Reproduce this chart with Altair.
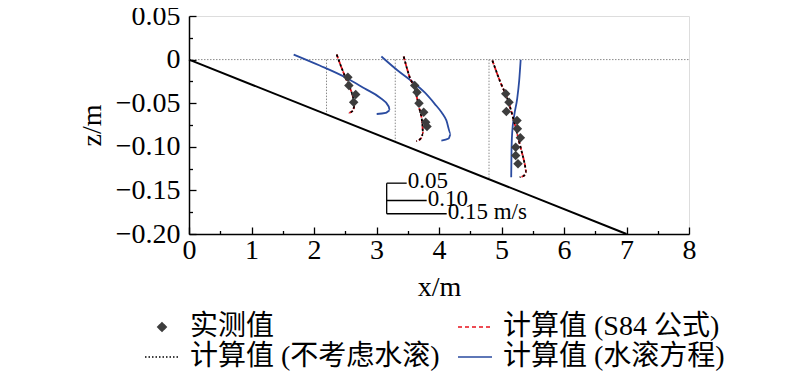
import altair as alt
import pandas as pd

# ---------------- data ----------------
U_SCALE = 6.4          # metres of x per m/s of velocity (scale bar: 0.05 m/s)
BED_X = [0.0, 7.0]
BED_Z = [0.0, -0.20]
STATIONS = [2.2, 3.3, 4.8]
STATION_BED = [-0.0629, -0.0943, -0.1371]

# measured velocities (diamonds)
meas_u = [
    [0.0534, 0.0559, 0.0730, 0.0680],
    [0.0486, 0.0544, 0.0594, 0.0711, 0.0761, 0.0794],
    [0.0418, 0.0500, 0.0434, 0.0700, 0.0709, 0.0784, 0.0667, 0.0667, 0.0725],
]
meas_z = [
    [-0.0202, -0.0297, -0.0400, -0.0489],
    [-0.0297, -0.0374, -0.0500, -0.0603, -0.0718, -0.0767],
    [-0.0392, -0.0489, -0.0595, -0.0698, -0.0794, -0.0897, -0.1005, -0.1101, -0.1195],
]

# computed, S84 formula / without roller (nearly identical)
calc_u = [
    [0.0255, 0.0405, 0.0530, 0.0655, 0.0705, 0.0667, 0.0542],
    [0.0211, 0.0361, 0.0486, 0.0594, 0.0678, 0.0694, 0.0648, 0.0528],
    [0.0085, 0.0268, 0.0475, 0.0642, 0.0767, 0.0892, 0.0935, 0.0880, 0.0767],
]
calc_z = [
    [0.0058, -0.0127, -0.0265, -0.0414, -0.0506, -0.0584, -0.0613],
    [0.0036, -0.0202, -0.0335, -0.0546, -0.0736, -0.0851, -0.0899, -0.0936],
    [-0.0010, -0.0240, -0.0469, -0.0736, -0.0966, -0.1195, -0.1291, -0.1329, -0.1349],
]

# computed, roller equation
roll_u = [
    [-0.0820, -0.0170, 0.0480, 0.0955, 0.1330, 0.1555, 0.1580, 0.1480, 0.1255],
    [-0.0347, 0.0061, 0.0444, 0.0736, 0.0986, 0.1161, 0.1278, 0.1386, 0.1336, 0.1153],
    [0.0792, 0.0755, 0.0705, 0.0630, 0.0580, 0.0563, 0.0555],
]
roll_z = [
    [0.0058, -0.0068, -0.0206, -0.0332, -0.0435, -0.0538, -0.0584, -0.0612, -0.0624],
    [0.0036, -0.0125, -0.0259, -0.0377, -0.0507, -0.0607, -0.0698, -0.0851, -0.0905, -0.0928],
    [-0.0002, -0.0240, -0.0447, -0.0642, -0.0837, -0.1043, -0.1349],
]

# velocity scale bar
BAR_X = 3.163
BAR_U = [0.05, 0.10, 0.15]
BAR_Z = [-0.1417, -0.1616, -0.1768]
BAR_LABELS = ["0.05", "0.10", "0.15 m/s"]

# legend order chosen so that the 2-column legend reads like the reference
NAMES = ["实测值", "计算值 (不考虑水滚)", "计算值 (S84 公式)", "计算值 (水滚方程)"]
C_MEAS, C_NOROLL, C_S84, C_ROLL = "#3d3d3d", "#000000", "#e8111b", "#2a4ba0"

FONT = "Liberation Serif, Noto Sans CJK SC"
FS = 28

# ---------------- tables ----------------
def profile_df(us, zs):
    rows = []
    for s, (ul, zl) in enumerate(zip(us, zs)):
        for i, (u, z) in enumerate(zip(ul, zl)):
            rows.append({"station": s, "idx": i, "x": STATIONS[s] + U_SCALE * u, "z": z})
    return pd.DataFrame(rows)

df_meas = profile_df(meas_u, meas_z)
df_calc = profile_df(calc_u, calc_z)
df_roll = profile_df(roll_u, roll_z)
df_bed = pd.DataFrame({"x": BED_X, "z": BED_Z})
df_surf = pd.DataFrame({"x": [0.0, 8.0], "z": [0.0, 0.0]})
df_st = pd.DataFrame({"x": STATIONS, "z": [0.0] * 3, "z2": STATION_BED})
df_bar_v = pd.DataFrame({"x": [BAR_X], "z": [BAR_Z[0]], "z2": [BAR_Z[-1]]})
df_bar_h = pd.DataFrame({"x": [BAR_X] * 3, "x2": [BAR_X + U_SCALE * u for u in BAR_U],
                         "z": BAR_Z, "label": BAR_LABELS})
df_leg = pd.DataFrame({"series": NAMES})

W, H = 500, 218
xs = alt.Scale(domain=[0, 8], nice=False, zero=False)
ys = alt.Scale(domain=[-0.20, 0.05], nice=False, zero=False)

def X(axis=None):
    return alt.X("x:Q", scale=xs, axis=axis)

def Y(axis=None):
    return alt.Y("z:Q", scale=ys, axis=axis)

x_main = alt.Axis(values=list(range(9)), ticks=False, tickSize=0, domainColor="black",
                  domainWidth=1.5, labelFont=FONT, labelFontSize=FS, labelColor="black",
                  labelPadding=2, labelFlush=False, title="x/m", titleFont=FONT,
                  titleFontSize=FS, titleFontWeight="normal", titleColor="black",
                  titlePadding=9, grid=False)
y_main = alt.Axis(values=[0.05, 0, -0.05, -0.10, -0.15, -0.20], ticks=False, tickSize=0,
                  domainColor="black", domainWidth=1.5, labelFont=FONT, labelFontSize=FS,
                  labelColor="black", labelPadding=9, labelFlush=False,
                  labelExpr="datum.value == 0 ? '0' : format(datum.value, '.2f')",
                  title="z/m", titleFont=FONT, titleFontSize=FS, titleFontWeight="normal",
                  titleColor="black", titlePadding=9, grid=False)
x_ticks = alt.Axis(orient="top", offset=-H, values=[i * 0.5 for i in range(17)], labels=False,
                   domain=False, title=None, grid=False, tickColor="black", tickWidth=1.3,
                   tickSize={"condition": {"test": "abs(datum.value - round(datum.value)) < 0.001",
                                           "value": 7}, "value": 3.5})
y_ticks = alt.Axis(orient="right", offset=-W, values=[0.05 - 0.025 * i for i in range(11)],
                   labels=False, domain=False, title=None, grid=False, tickColor="black",
                   tickWidth=1.3,
                   tickSize={"condition": {"test": "abs(datum.value*20 - round(datum.value*20)) < 0.001",
                                           "value": 7}, "value": 3.5})

gray = "#8a8a8a"
surf = alt.Chart(df_surf).mark_line(color=gray, strokeWidth=1, strokeDash=[1.5, 1.5]).encode(
    x=X(x_ticks), y=Y(y_ticks))
st = alt.Chart(df_st).mark_rule(color=gray, strokeWidth=1, strokeDash=[1.5, 1.5]).encode(
    x=X(), y=Y(), y2="z2:Q")
bed = alt.Chart(df_bed).mark_line(color="black", strokeWidth=2).encode(x=X(x_main), y=Y(y_main))

roll = alt.Chart(df_roll).mark_line(color=C_ROLL, strokeWidth=1.8, interpolate="monotone").encode(
    x=X(), y=Y(), detail="station:N", order="idx:Q")
calc_red = alt.Chart(df_calc).mark_line(color=C_S84, strokeWidth=1.8, strokeDash=[4, 2],
                                        interpolate="monotone").encode(
    x=X(), y=Y(), detail="station:N", order="idx:Q")
calc_blk = alt.Chart(df_calc).mark_line(color=C_NOROLL, strokeWidth=1.8, strokeDash=[2.5, 2.5],
                                        interpolate="monotone").encode(
    x=X(), y=Y(), detail="station:N", order="idx:Q")
meas = alt.Chart(df_meas).mark_point(shape="diamond", filled=True, size=90, color=C_MEAS,
                                     opacity=1).encode(x=X(), y=Y())

bar_v = alt.Chart(df_bar_v).mark_rule(color="black", strokeWidth=1.3).encode(x=X(), y=Y(), y2="z2:Q")
bar_h = alt.Chart(df_bar_h).mark_rule(color="black", strokeWidth=1.3).encode(x=X(), x2="x2:Q", y=Y())
bar_t = alt.Chart(df_bar_h).mark_text(align="left", baseline="middle", dx=1, dy=-2, font=FONT,
                                      fontSize=23, color="black").encode(
    x=alt.X("x2:Q", scale=xs, axis=None), y=Y(), text="label:N")

LINE = "M-3.4,0L3.4,0"
DIAM = "M0,-0.85L0.85,0L0,0.85L-0.85,0Z"
leg = alt.Legend(title=None, orient="none", legendX=-50, legendY=297, columns=2,
                 columnPadding=12, rowPadding=2, labelFont=FONT, labelFontSize=FS,
                 labelColor="black", labelOffset=14, symbolOffset=9, symbolSize=100,
                 symbolStrokeWidth=1.5, symbolOpacity=1, labelLimit=400)
legend_layer = alt.Chart(df_leg).mark_point(filled=True, opacity=0).encode(
    x=alt.value(0), y=alt.value(0),
    fill=alt.Fill("series:N", scale=alt.Scale(domain=NAMES, range=[C_MEAS, "transparent",
                                                                   "transparent", "transparent"]),
                  legend=leg),
    stroke=alt.Stroke("series:N", scale=alt.Scale(domain=NAMES,
                                                  range=[C_MEAS, C_NOROLL, C_S84, C_ROLL]),
                      legend=leg),
    shape=alt.Shape("series:N", scale=alt.Scale(domain=NAMES, range=[DIAM, LINE, LINE, LINE]),
                    legend=leg),
    strokeDash=alt.StrokeDash("series:N", scale=alt.Scale(domain=NAMES,
                                                          range=[[1, 0], [1.5, 2], [4, 3], [1, 0]]),
                              legend=leg),
)

chart = alt.layer(
    surf, st, bed, roll, calc_red, calc_blk, meas, bar_v, bar_h, bar_t, legend_layer
).resolve_axis(x="independent", y="independent").properties(
    width=W, height=H,
    autosize=alt.AutoSizeParams(type="none"),
    padding={"left": 181, "top": 8, "right": 100, "bottom": 149},
).configure_view(stroke=None).configure(background="white")

chart.save("out.html", embed_options={"renderer": "svg", "actions": False})
